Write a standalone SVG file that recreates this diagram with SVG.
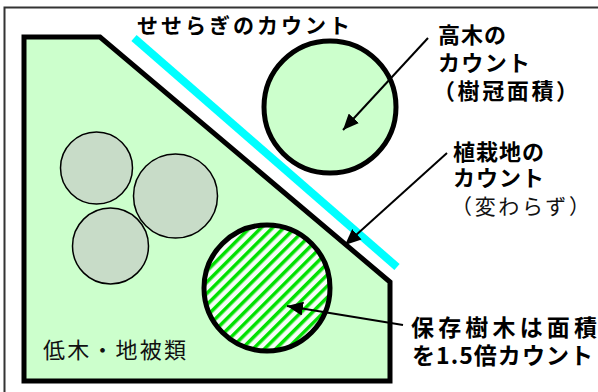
<svg xmlns="http://www.w3.org/2000/svg" width="598" height="392" viewBox="0 0 598 392">
  <style>
    .lbl { font-family: "Noto Sans CJK JP", "Noto Sans", sans-serif; font-weight: 700; fill: #000; }
    .thin { font-family: "Noto Sans CJK JP", "Noto Sans", sans-serif; font-weight: 400; fill: #111; }
    .conn { stroke: #000; stroke-width: 2; fill: none; marker-end: url(#arrow); }
    .shrub { fill: #c8dcc8; stroke: #000; stroke-width: 1.5; }
  </style>
  <defs>
    <marker id="arrow" markerUnits="userSpaceOnUse" markerWidth="18" markerHeight="14" refX="16" refY="7" orient="auto">
      <path d="M0,0 L16,7 L0,14 Z" fill="#000"/>
    </marker>
    <pattern id="hatch" patternUnits="userSpaceOnUse" width="8" height="8" patternTransform="rotate(45)">
      <rect x="0" y="0" width="8" height="8" fill="#f7fdf7"/>
      <rect x="0" y="0" width="3.5" height="8" fill="#00e000"/>
    </pattern>
  </defs>

  <!-- frame -->
  <path d="M4.5,392 V7.5 H598" fill="none" stroke="#333" stroke-width="2"/>

  <g id="planting-area">
    <polygon points="24,37 100,37 390,282 390,381 24,381" fill="#ccffcc" stroke="#000" stroke-width="5" stroke-linejoin="miter"/>
    <text class="thin" x="43" y="358" font-size="22" textLength="143" lengthAdjust="spacing">低木・地被類</text>
  </g>

  <g id="stream">
    <line x1="134" y1="38" x2="397" y2="267" stroke="#00ffff" stroke-width="8"/>
    <text class="lbl" x="137" y="33" font-size="21" textLength="213" lengthAdjust="spacing">せせらぎのカウント</text>
  </g>

  <g id="shrubs">
    <circle class="shrub" cx="96.5" cy="168" r="36"/>
    <circle class="shrub" cx="175.5" cy="196" r="42"/>
    <circle class="shrub" cx="110.5" cy="246" r="38"/>
  </g>

  <g id="tall-tree">
    <circle cx="330" cy="107" r="66" fill="#ccffcc" stroke="#000" stroke-width="5"/>
  </g>

  <g id="preserved-tree">
    <circle cx="267" cy="288" r="63" fill="url(#hatch)" stroke="#000" stroke-width="5"/>
  </g>

  <g id="label-tall-tree">
    <text class="lbl" font-size="22"><tspan x="438" y="43" textLength="68" lengthAdjust="spacing">高木の</tspan><tspan x="438" y="71" textLength="92" lengthAdjust="spacing">カウント</tspan><tspan x="433" y="99" textLength="145" lengthAdjust="spacing">（樹冠面積）</tspan></text>
  </g>

  <g id="label-planting">
    <text class="lbl" font-size="22"><tspan x="453" y="160" textLength="91" lengthAdjust="spacing">植栽地の</tspan><tspan x="453" y="186" textLength="91" lengthAdjust="spacing">カウント</tspan><tspan class="thin" x="451" y="214" font-size="21" textLength="139" lengthAdjust="spacing">（変わらず）</tspan></text>
  </g>

  <g id="label-preserved">
    <text class="lbl" font-size="23"><tspan x="411" y="336" textLength="186" lengthAdjust="spacing">保存樹木は面積</tspan><tspan x="412" y="364" textLength="181" lengthAdjust="spacing">を1.5倍カウント</tspan></text>
  </g>

  <g id="connectors">
    <line class="conn" x1="428" y1="38" x2="343" y2="130"/>
    <line class="conn" x1="447" y1="153" x2="345" y2="245"/>
    <line class="conn" x1="403" y1="325" x2="287" y2="306"/>
  </g>
</svg>
